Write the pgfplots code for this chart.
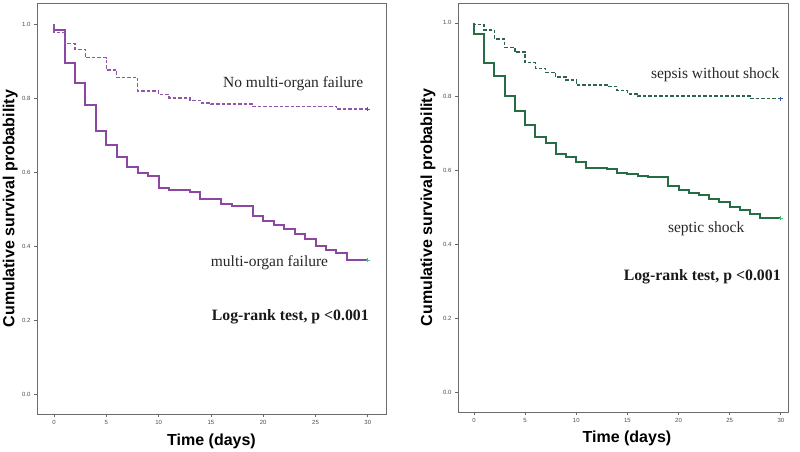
\documentclass[border=0pt]{standalone}
\usepackage{fontspec}
\setmainfont{Liberation Serif}
\setsansfont{Liberation Sans}
\usepackage{pgfplots}
\pgfplotsset{compat=1.18}
\definecolor{kmpurple}{RGB}{140,72,160}
\definecolor{kmpurpled}{RGB}{145,85,170}
\definecolor{kmgreen}{RGB}{38,108,68}
\definecolor{kmgreend}{RGB}{45,100,75}
\definecolor{cblue}{RGB}{60,90,200}
\definecolor{cgreen}{RGB}{60,200,120}
\pgfplotsset{
  kmstyle/.style={
    scale only axis,
    axis line style={gray!85!black, line width=0.9pt},
    tick style={gray!80!black, line width=0.7pt},
    tick align=outside,
    major tick length=3pt,
    xtick pos=bottom, ytick pos=left,
    xtick={0,5,10,15,20,25,30},
    ytick={0,0.2,0.4,0.6,0.8,1.0},
    yticklabel style={/pgf/number format/fixed, /pgf/number format/fixed zerofill, /pgf/number format/precision=1},
    ticklabel style={font=\sffamily\fontsize{6}{7}\selectfont, text=gray!60!black},
    /pgf/number format/assume math mode=true,
    label style={font=\sffamily\bfseries\fontsize{16}{18}\selectfont},
    xlabel={Time (days)},
    ylabel={Cumulative survival probability},
    clip=false,
  },
  solidkm/.style={const plot, line width=2pt},
  dashkm/.style={const plot, line width=1.4pt, dash pattern=on 3.5pt off 2pt},
}
\begin{document}
\begin{tikzpicture}
\useasboundingbox (0,0) rectangle (800pt,451pt);
% ---------------- Left panel ----------------
\begin{axis}[kmstyle,
  at={(37pt,37pt)}, anchor=south west,
  width=349pt, height=411pt,
  xmin=-1.63, xmax=31.74, ymin=-0.054, ymax=1.057,
  xlabel style={at={(axis description cs:0.5,-0.066)}, anchor=center},
  ylabel style={at={(axis description cs:-0.077,0.5)}, anchor=center},
]
\addplot[solidkm, kmpurple] coordinates {
(0,1.0) (0,0.984) (1,0.894) (2,0.842) (3,0.781) (4,0.711) (5,0.673) (6,0.640)
(7,0.615) (8,0.598) (9,0.589) (10,0.558) (11,0.551) (13,0.545) (14,0.527)
(16,0.515) (17,0.508) (19,0.481) (20,0.468) (21,0.457) (22,0.446) (23,0.432)
(24,0.419) (25,0.400) (26,0.388) (27,0.380) (28,0.362) (30,0.362)};
\addplot[dashkm, kmpurpled] coordinates {
(0,1.0) (0,0.977) (1,0.947) (2,0.931) (3,0.909) (5,0.876) (6,0.856) (8,0.819)
(10,0.810) (11,0.800) (13,0.794) (14,0.787) (15,0.784) (19,0.778) (27,0.770) (30,0.770)};
\addplot[only marks, mark=+, mark size=2pt, cblue, line width=0.9pt] coordinates {(30,0.770)};
\addplot[only marks, mark=+, mark size=2pt, cgreen, line width=0.9pt] coordinates {(30,0.362)};
\node[anchor=east, font=\fontsize{15.5}{17}\selectfont, text=black!85] at (axis cs:29.9,0.84) {No multi-organ failure};
\node[anchor=center, font=\fontsize{15.5}{17}\selectfont, text=black!85] at (axis cs:20.6,0.354) {multi-organ failure};
\node[anchor=west, font=\bfseries\fontsize{15.8}{17}\selectfont, text=black!90] at (axis cs:14.75,0.208) {Log-rank test, p <0.001};
\end{axis}
% ---------------- Right panel ----------------
\begin{axis}[kmstyle,
  at={(458pt,39pt)}, anchor=south west,
  width=330pt, height=409pt,
  xmin=-1.56, xmax=30.7, ymin=-0.054, ymax=1.054,
  xlabel style={at={(axis description cs:0.512,-0.064)}, anchor=center},
  ylabel style={at={(axis description cs:-0.091,0.5)}, anchor=center},
]
\addplot[solidkm, kmgreen] coordinates {
(0,1.0) (0,0.970) (1,0.891) (2,0.856) (3,0.803) (4,0.762) (5,0.724) (6,0.692)
(7,0.674) (8,0.644) (9,0.638) (10,0.622) (11,0.608) (13,0.603) (14,0.594)
(15,0.590) (16,0.586) (17,0.582) (19,0.557) (20,0.548) (21,0.540) (22,0.534)
(23,0.524) (24,0.514) (25,0.502) (26,0.492) (27,0.483) (28,0.471) (30,0.471)};
\addplot[dashkm, kmgreend] coordinates {
(0,1.0) (0,0.995) (1,0.981) (2,0.956) (3,0.934) (4,0.921) (5,0.893) (6,0.877)
(7,0.866) (8,0.853) (9,0.845) (10,0.832) (13,0.827) (14,0.817) (15,0.808)
(16,0.802) (27,0.795) (30,0.795)};
\addplot[only marks, mark=+, mark size=2pt, cblue, line width=0.9pt] coordinates {(30,0.795)};
\addplot[only marks, mark=+, mark size=2pt, cgreen, line width=0.9pt] coordinates {(30,0.471)};
\node[anchor=east, font=\fontsize{15.5}{17}\selectfont, text=black!85] at (axis cs:30.2,0.859) {sepsis without shock};
\node[anchor=center, font=\fontsize{15.5}{17}\selectfont, text=black!85] at (axis cs:22.7,0.442) {septic shock};
\node[anchor=west, font=\bfseries\fontsize{15.8}{17}\selectfont, text=black!90] at (axis cs:14.3,0.312) {Log-rank test, p <0.001};
\end{axis}
\end{tikzpicture}
\end{document}
